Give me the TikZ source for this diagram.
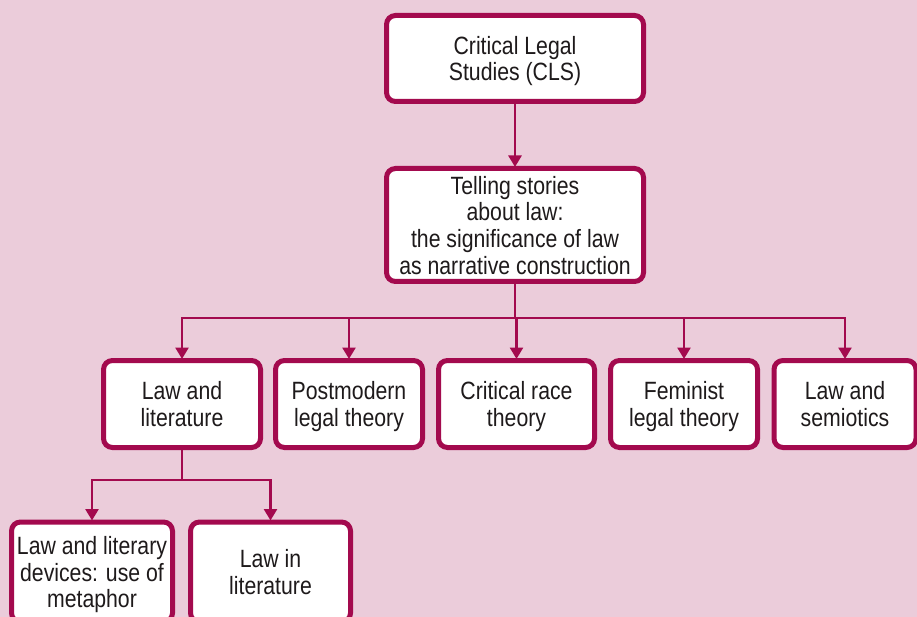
\documentclass[tikz,border=0pt]{standalone}
\usepackage{fontspec}
\setmainfont{Liberation Sans}[FakeStretch=0.85]
\usetikzlibrary{arrows.meta}
\definecolor{bg}{HTML}{EBCCDA}
\definecolor{mag}{HTML}{A30A4E}
\definecolor{txt}{HTML}{1E1A1B}
\tikzset{
  x=1pt, y=-1pt,
  box/.style={draw=mag, line width=5pt, fill=white, rounded corners=9pt,
    inner sep=0pt, align=center, text=txt,
    font=\fontsize{25}{26.7}\selectfont, text depth=0pt},
  conn/.style={draw=mag, line width=2.6pt},
  arr/.style={conn, -{Triangle[width=13pt,length=11.5pt]}, shorten >=-1pt}
}
\begin{document}
\begin{tikzpicture}
\fill[bg] (0,0) rectangle (917,617);
\useasboundingbox (0,0) rectangle (917,617);
\node[box, minimum width=257pt, minimum height=86pt] (cls) at (515,58.5) {Critical Legal\\Studies (CLS)};
\node[box, minimum width=257pt, minimum height=113pt] (tell) at (515,225) {Telling stories\\about law:\\the significance of law\\as narrative construction};
\node[box, minimum width=157pt, minimum height=87pt] (lit) at (182,404) {Law and\\literature};
\node[box, minimum width=147pt, minimum height=87pt] (pm) at (349,404) {Postmodern\\legal theory};
\node[box, minimum width=156pt, minimum height=87pt] (crt) at (516.5,404) {Critical race\\theory};
\node[box, minimum width=147pt, minimum height=87pt] (fem) at (684,404) {Feminist\\legal theory};
\node[box, minimum width=142pt, minimum height=87pt] (sem) at (845,404) {Law and\\semiotics};
\node[box, minimum width=161pt, minimum height=100pt] (dev) at (92,572) {Law and literary\\devices: use of\\metaphor};
\node[box, minimum width=160pt, minimum height=100pt] (inlit) at (270.5,572) {Law in\\literature};
\coordinate (bus) at (515,318);
\coordinate (bus2) at (182,480);
\draw[arr] (cls.south) -- (tell.north);
\draw[conn] (tell.south) -- (bus);
\draw[arr] (bus) -| (lit.north);
\draw[arr] (bus) -| (pm.north);
\draw[arr] (bus) -- (bus -| crt.north) -- (crt.north);
\draw[arr] (bus) -| (fem.north);
\draw[arr] (bus) -| (sem.north);
\draw[conn] (lit.south) -- (bus2);
\draw[arr] (bus2) -| (dev.north);
\draw[arr] (bus2) -| (inlit.north);
\end{tikzpicture}
\end{document}
